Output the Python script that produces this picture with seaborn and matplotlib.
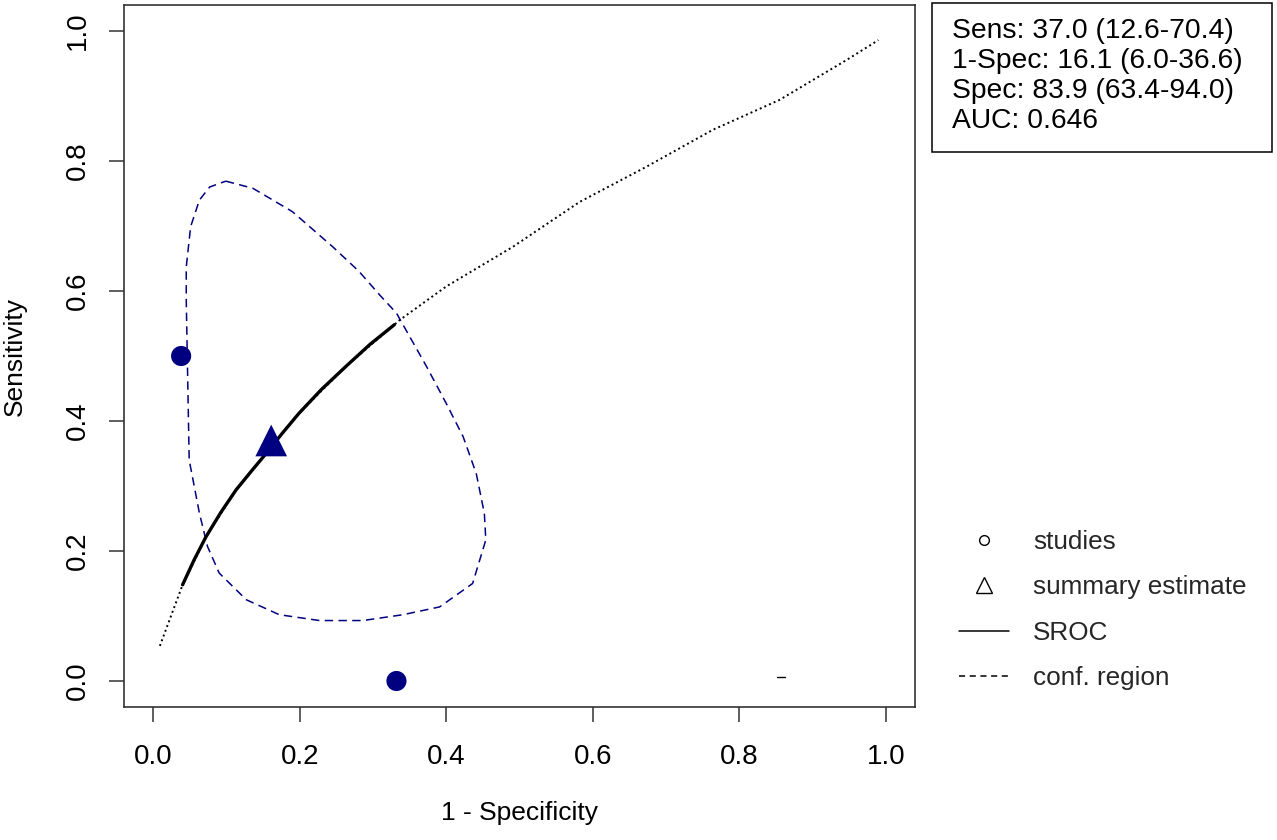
import matplotlib
matplotlib.use('Agg')
import pandas as pd
import matplotlib.pyplot as plt
import seaborn as sns
from matplotlib.lines import Line2D
from matplotlib.patches import Rectangle

# individual studies (1 - specificity, sensitivity)
study_fpr = [0.038, 0.332]
study_sens = [0.500, 0.000]

# summary estimate
summary_fpr = [0.161]
summary_sens = [0.370]

# SROC curve, solid part (range of the studies)
sroc_fpr = [0.040, 0.056, 0.072, 0.092, 0.113, 0.134, 0.154, 0.176, 0.199, 0.230,
            0.263, 0.296, 0.329]
sroc_sens = [0.148, 0.187, 0.222, 0.259, 0.294, 0.323, 0.350, 0.381, 0.412, 0.449,
             0.484, 0.518, 0.548]

# SROC curve, full extrapolated part (dotted)
sroc_full_fpr = [0.009, 0.040, 0.072, 0.113, 0.154, 0.199, 0.263, 0.329, 0.336,
                 0.400, 0.491, 0.582, 0.673, 0.764, 0.855, 0.946, 0.990]
sroc_full_sens = [0.054, 0.148, 0.222, 0.294, 0.350, 0.412, 0.484, 0.548, 0.555,
                  0.607, 0.668, 0.737, 0.791, 0.848, 0.894, 0.955, 0.986]

# confidence region
conf_fpr = [0.099, 0.136, 0.190, 0.245, 0.281, 0.309, 0.332, 0.350, 0.373, 0.400,
            0.423, 0.441, 0.452, 0.454, 0.436, 0.391, 0.341, 0.286, 0.227, 0.172,
            0.127, 0.090, 0.074, 0.063, 0.049, 0.047, 0.045, 0.045, 0.051, 0.063,
            0.077, 0.099]
conf_sens = [0.769, 0.758, 0.722, 0.668, 0.630, 0.594, 0.566, 0.530, 0.484, 0.427,
             0.376, 0.319, 0.258, 0.217, 0.150, 0.114, 0.102, 0.093, 0.093, 0.102,
             0.125, 0.166, 0.207, 0.258, 0.340, 0.463, 0.586, 0.637, 0.699, 0.740,
             0.760, 0.769]

# small stray mark near the bottom right
stray_fpr = [0.852, 0.862]
stray_sens = [0.006, 0.006]

ticks = [0.0, 0.2, 0.4, 0.6, 0.8, 1.0]
tick_labels = ['0.0', '0.2', '0.4', '0.6', '0.8', '1.0']

stats_lines = ['Sens: 37.0 (12.6-70.4)',
               '1-Spec: 16.1 (6.0-36.6)',
               'Spec: 83.9 (63.4-94.0)',
               'AUC: 0.646']

legend_labels = ['studies', 'summary estimate', 'SROC', 'conf. region']

sns.set_theme(style='white')
plt.rcParams['font.family'] = ['Liberation Sans', 'DejaVu Sans']

fig = plt.figure(figsize=(12.77, 8.4), dpi=100)
ax = fig.add_axes([124 / 1277, 133 / 840, 791 / 1277, 702 / 840])

sroc_full = pd.DataFrame({'fpr': sroc_full_fpr, 'sens': sroc_full_sens})
sroc = pd.DataFrame({'fpr': sroc_fpr, 'sens': sroc_sens})
conf = pd.DataFrame({'fpr': conf_fpr, 'sens': conf_sens})

sns.lineplot(data=sroc_full, x='fpr', y='sens', sort=False, estimator=None,
             color='black', linewidth=1.4, linestyle=(0, (1, 1.6)), ax=ax)
sns.lineplot(data=conf, x='fpr', y='sens', sort=False, estimator=None,
             color='navy', linewidth=1.1, ax=ax)
ax.lines[-1].set_dashes((5.5, 3.5))
sns.lineplot(data=sroc, x='fpr', y='sens', sort=False, estimator=None,
             color='black', linewidth=2.4, ax=ax)
sns.lineplot(x=stray_fpr, y=stray_sens, color='black', linewidth=1.0, ax=ax)

sns.scatterplot(x=study_fpr, y=study_sens, color='navy', s=210,
                edgecolor='none', zorder=5, ax=ax)
sns.scatterplot(x=summary_fpr, y=summary_sens, color='navy', marker='^', s=520,
                edgecolor='none', zorder=5, ax=ax)

ax.set_xlim(-0.04, 1.04)
ax.set_ylim(-0.04, 1.04)
ax.set_xticks(ticks)
ax.set_xticklabels(tick_labels)
ax.set_yticks(ticks)
ax.set_yticklabels(tick_labels, rotation=90, va='center')
ax.tick_params(axis='both', direction='out', length=11, width=1.1, color='#333333',
               labelsize=20, labelcolor='black', bottom=True, left=True)
ax.tick_params(axis='x', pad=16)
ax.tick_params(axis='y', pad=12.5)
for sp in ax.spines.values():
    sp.set_color('#333333')
    sp.set_linewidth(1.2)
ax.grid(False)

ax.set_xlabel('1 - Specificity', fontsize=19, color='black')
ax.set_ylabel('Sensitivity', fontsize=19, color='black')
ax.xaxis.set_label_coords(0.5, (27 - 133) / 702)
ax.xaxis.label.set_va('center')
ax.yaxis.set_label_coords((15 - 124) / 791, 0.5)
ax.yaxis.label.set_va('center')

# legend outside the plot
handles = [
    Line2D([], [], marker='o', linestyle='none', markerfacecolor='none',
           markeredgecolor='black', markersize=7, markeredgewidth=1.0),
    Line2D([], [], marker='^', linestyle='none', markerfacecolor='none',
           markeredgecolor='black', markersize=12, markeredgewidth=1.0),
    Line2D([], [], color='black', linewidth=1.1),
    Line2D([], [], color='black', linewidth=1.1, dashes=(4, 3)),
]
fig.legend(handles, legend_labels, loc='upper left',
           bbox_to_anchor=(959 / 1277, (840 - 530) / 840), frameon=False,
           fontsize=18.8, handlelength=1.92, handletextpad=0.92, labelspacing=0.82,
           borderpad=0, borderaxespad=0)

# stats box
fig.add_artist(Rectangle((932 / 1277, (840 - 152) / 840), 340 / 1277, 149 / 840,
                         transform=fig.transFigure, fill=False,
                         edgecolor='black', linewidth=1.1))
for i, line in enumerate(stats_lines):
    fig.text(952 / 1277, (840 - 38 - 30 * i) / 840, line, fontsize=20.3,
             color='black', va='baseline', ha='left')

fig.savefig('out.png', dpi=100)
